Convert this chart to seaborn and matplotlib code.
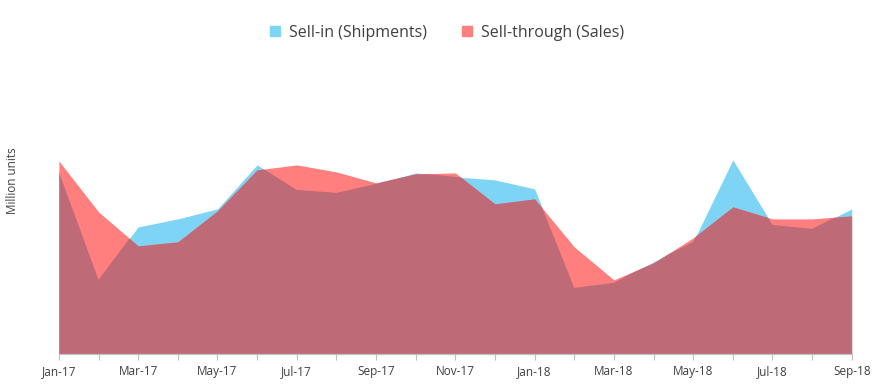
import numpy as np
import matplotlib
matplotlib.use("Agg")
import matplotlib.pyplot as plt
from matplotlib.lines import Line2D
import seaborn as sns

months = ["Jan-17", "Feb-17", "Mar-17", "Apr-17", "May-17", "Jun-17", "Jul-17",
          "Aug-17", "Sep-17", "Oct-17", "Nov-17", "Dec-17", "Jan-18", "Feb-18",
          "Mar-18", "Apr-18", "May-18", "Jun-18", "Jul-18", "Aug-18", "Sep-18"]
sell_in = [18.2, 7.4, 12.7, 13.5, 14.5, 18.9, 16.4, 16.1, 17.0, 18.1, 17.7,
           17.4, 16.5, 6.6, 7.1, 9.2, 11.2, 19.4, 12.9, 12.5, 14.5]
sell_through = [19.3, 14.2, 10.8, 11.2, 14.3, 18.4, 18.9, 18.2, 17.1, 18.0, 18.1,
                15.0, 15.5, 10.7, 7.4, 9.1, 11.6, 14.7, 13.5, 13.5, 13.8]

blue = "#7DD4F4"
red = "#FF7F7F"
overlap = "#BE6A77"
text_col = "#404040"

sns.set_style("white")
plt.rcParams["font.family"] = ["Open Sans", "DejaVu Sans"]

fig, ax = plt.subplots(figsize=(8.79, 3.88), dpi=100)
fig.subplots_adjust(left=0.067, right=0.969, bottom=0.088, top=0.861)

x = np.arange(len(months))
pb = ax.fill_between(x, sell_in, color=blue, lw=0)
ax.fill_between(x, sell_through, color=red, lw=0)
# overlap region drawn in its own colour, clipped to the sell-in shape
po = ax.fill_between(x, sell_through, color=overlap, lw=0)
po.set_clip_path(pb.get_paths()[0], ax.transData)

ax.set_xlim(0, len(months) - 1)
ax.set_ylim(0, 30)
ax.set_yticks([])
ax.set_xticks(x)
ax.set_xticklabels([m if i % 2 == 0 else "" for i, m in enumerate(months)],
                   fontsize=8.5, color=text_col)
ax.tick_params(axis="x", length=4, color="#BFBFBF", width=0.8, pad=4, bottom=True)
for s in ["top", "right", "left"]:
    ax.spines[s].set_visible(False)
ax.spines["bottom"].set_color("#BFBFBF")
ax.spines["bottom"].set_linewidth(0.8)

fig.text(0.014, 0.535, "Million units", rotation=90, va="center", ha="center",
         fontsize=8.5, color=text_col)

handles = [Line2D([], [], marker="s", ls="", color=blue, markersize=7.5),
           Line2D([], [], marker="s", ls="", color=red, markersize=7.5)]
fig.legend(handles, ["Sell-in (Shipments)", "Sell-through (Sales)"],
           loc="center", bbox_to_anchor=(0.507, 0.915), ncol=2, frameon=False,
           fontsize=11.5, labelcolor=text_col, handletextpad=0.4, columnspacing=2.0,
           handlelength=1.0)

fig.savefig("out.png", dpi=100)
